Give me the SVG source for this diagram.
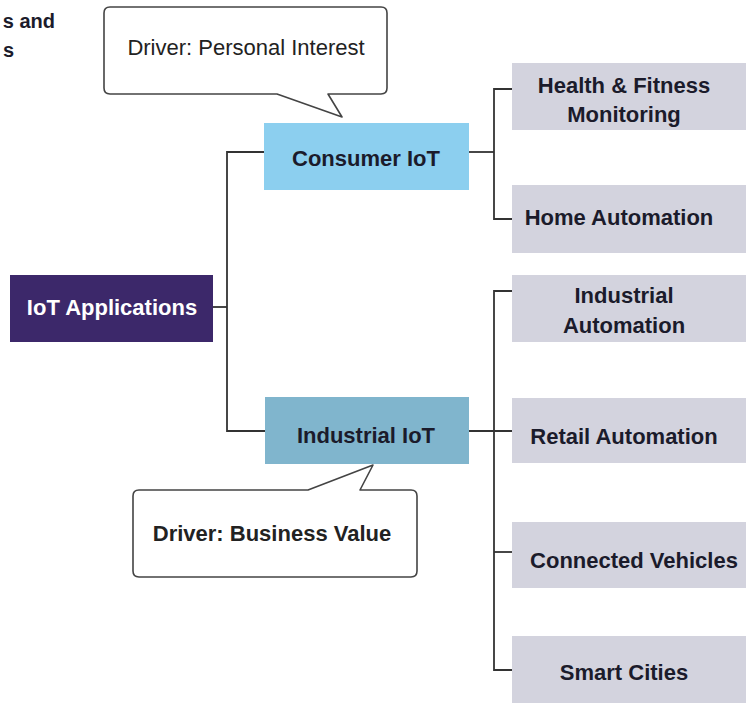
<svg xmlns="http://www.w3.org/2000/svg" width="746" height="703" viewBox="0 0 746 703">
<style>
text{font-family:"Liberation Sans",Arial,sans-serif;font-size:22px;text-anchor:middle}
.b{font-weight:bold}
.dark{fill:#1b1b2b}
.leaf{fill:#d3d3de}
.conn{fill:none;stroke:#333;stroke-width:1.8}
.callout{fill:#fff;stroke:#444;stroke-width:1.6;stroke-linejoin:round}
</style>
<rect width="746" height="703" fill="#fff"/>
<g id="fragment">
<text class="b dark" x="55" y="28" style="text-anchor:end;font-size:20px">s and</text>
<text class="b dark" x="14" y="57" style="text-anchor:end;font-size:20px">s</text>
</g>
<g id="connectors">
<polyline class="conn" points="213,307 227,307"/>
<polyline class="conn" points="264,152 227,152 227,431 265,431"/>
<polyline class="conn" points="469,152 494,152"/>
<polyline class="conn" points="512,89 494,89 494,219 512,219"/>
<polyline class="conn" points="469,431 512,431"/>
<polyline class="conn" points="512,291 494,291 494,670 512,670"/>
<polyline class="conn" points="494,552 512,552"/>
</g>
<g id="iot-applications">
<rect x="10" y="275" width="203" height="67" fill="#3c286a"/>
<text class="b" x="112" y="315" fill="#fff">IoT Applications</text>
</g>
<g id="consumer-iot">
<rect x="264" y="123" width="205" height="67" fill="#8ccfef"/>
<text class="b dark" x="366" y="166">Consumer IoT</text>
</g>
<g id="industrial-iot">
<rect x="265" y="397" width="204" height="67" fill="#80b5cd"/>
<text class="b dark" x="366" y="443">Industrial IoT</text>
</g>
<g id="callout-personal">
<path class="callout" d="M110,7 H381 Q387,7 387,13 V88 Q387,94 381,94 H328 L342,117 L277,94 H110 Q104,94 104,88 V13 Q104,7 110,7 Z"/>
<text x="246" y="55" fill="#222">Driver: Personal Interest</text>
</g>
<g id="callout-business">
<path class="callout" d="M139,490 H308 L373,465 L360,490 H411 Q417,490 417,496 V571 Q417,577 411,577 H139 Q133,577 133,571 V496 Q133,490 139,490 Z"/>
<text class="b" x="272" y="541" fill="#222">Driver: Business Value</text>
</g>
<g id="health-fitness">
<rect class="leaf" x="512" y="63" width="234" height="67"/>
<text class="b dark" x="624" y="93">Health &amp; Fitness</text>
<text class="b dark" x="624" y="122">Monitoring</text>
</g>
<g id="home-automation">
<rect class="leaf" x="512" y="185" width="234" height="68"/>
<text class="b dark" x="619" y="225">Home Automation</text>
</g>
<g id="industrial-automation">
<rect class="leaf" x="512" y="275" width="234" height="67"/>
<text class="b dark" x="624" y="303">Industrial</text>
<text class="b dark" x="624" y="333">Automation</text>
</g>
<g id="retail-automation">
<rect class="leaf" x="512" y="398" width="234" height="65"/>
<text class="b dark" x="624" y="444">Retail Automation</text>
</g>
<g id="connected-vehicles">
<rect class="leaf" x="512" y="522" width="234" height="66"/>
<text class="b dark" x="634" y="568">Connected Vehicles</text>
</g>
<g id="smart-cities">
<rect class="leaf" x="512" y="636" width="234" height="67"/>
<text class="b dark" x="624" y="680">Smart Cities</text>
</g>
</svg>
